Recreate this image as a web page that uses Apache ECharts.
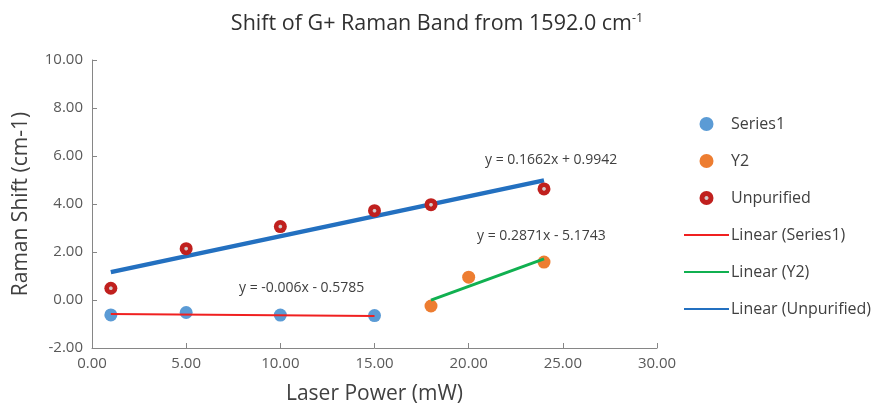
<!DOCTYPE html>
<html><head><meta charset="utf-8">
<script src="https://cdn.jsdelivr.net/npm/echarts@6/dist/echarts.min.js"></script>
<style>html,body{margin:0;padding:0;background:#fff}#c{width:882px;height:408px}</style>
</head><body><div id="c"></div>
<script>
const series1X = [1, 5, 10, 15];
const series1Y = [-0.62, -0.52, -0.63, -0.65];
const y2X = [18, 20, 24];
const y2Y = [-0.25, 0.95, 1.58];
const unpurX = [1, 5, 10, 15, 18, 24];
const unpurY = [0.49, 2.14, 3.06, 3.72, 3.97, 4.63];
// trend line coefficients [slope, intercept] as shown in the chart
const trendSeries1 = [-0.006, -0.5785];
const trendY2 = [0.2871, -5.1743];
const trendUnpur = [0.1662, 0.9942];
const eqLabels = ['y = -0.006x - 0.5785', 'y = 0.2871x - 5.1743', 'y = 0.1662x + 0.9942'];
const xTicks = [0, 5, 10, 15, 20, 25, 30];
const yTicks = [-2, 0, 2, 4, 6, 8, 10];

const pts = (xs, ys) => xs.map((x, i) => [x, ys[i]]);
const trend = (c, xs) => [Math.min(...xs), Math.max(...xs)].map(x => [x, c[0] * x + c[1]]);

const FONT = '"Open Sans", "Noto Sans", sans-serif';
const chart = echarts.init(document.getElementById('c'), null, {renderer: 'canvas'});
const axisCol = '#868686';
const txtCol = '#595959';
const hideSym = {opacity: 0};
chart.setOption({
  animation: false,
  backgroundColor: '#fff',
  textStyle: {fontFamily: FONT},
  title: {
    text: 'Shift of G+ Raman Band from 1592.0 cm{sup|-1}',
    left: 432, top: 7, textAlign: 'center',
    textStyle: {fontFamily: FONT, fontSize: 21.5, fontWeight: 'normal', color: '#303030',
      rich: {sup: {fontSize: 12.5, verticalAlign: 'top', padding: [0,0,10,0], color: '#303030', fontFamily: FONT}}}
  },
  grid: {left: 92, right: 225, top: 60, bottom: 60, outerBoundsMode: 'none', containLabel: false},
  xAxis: {
    type: 'value', min: xTicks[0], max: xTicks[xTicks.length - 1], interval: 5,
    name: 'Laser Power (mW)', nameLocation: 'middle', nameGap: 36,
    nameTextStyle: {fontSize: 21, color: '#404040', fontFamily: FONT},
    axisLine: {show: true, onZero: false, lineStyle: {color: axisCol, width: 1}},
    axisTick: {show: true, inside: true, length: 5, lineStyle: {color: axisCol}},
    axisLabel: {fontSize: 15, color: txtCol, formatter: v => v.toFixed(2), margin: 8, fontFamily: FONT},
    splitLine: {show: false}
  },
  yAxis: {
    type: 'value', min: yTicks[0], max: yTicks[yTicks.length - 1], interval: 2,
    name: 'Raman Shift (cm-1)', nameLocation: 'middle', nameGap: 60,
    nameTextStyle: {fontSize: 21, color: '#404040', fontFamily: FONT},
    axisLine: {show: true, onZero: false, lineStyle: {color: axisCol, width: 1}},
    axisTick: {show: true, inside: true, length: 5, lineStyle: {color: axisCol}},
    axisLabel: {fontSize: 15, color: txtCol, formatter: v => v.toFixed(2), margin: 9, fontFamily: FONT},
    splitLine: {show: false}
  },
  legend: {
    orient: 'vertical', left: 683, top: 116, padding: 0, itemWidth: 45, itemHeight: 14, itemGap: 21,
    textStyle: {fontSize: 16, color: '#404040', fontFamily: FONT, padding: [0,0,0,-3]},
    data: ['Series1', 'Y2', 'Unpurified',
      {name: 'Linear (Series1)', itemStyle: hideSym},
      {name: 'Linear (Y2)', itemStyle: hideSym},
      {name: 'Linear (Unpurified)', itemStyle: hideSym}]
  },
  series: [
    {name: 'Linear (Unpurified)', type: 'line', symbol: 'none', data: trend(trendUnpur, unpurX),
      lineStyle: {color: '#2370c0', width: 4.5}, itemStyle: {color: '#2370c0'}, z: 1},
    {name: 'Linear (Series1)', type: 'line', symbol: 'none', data: trend(trendSeries1, series1X),
      lineStyle: {color: '#f02020', width: 2}, itemStyle: {color: '#f02020'}, z: 3},
    {name: 'Linear (Y2)', type: 'line', symbol: 'none', data: trend(trendY2, y2X),
      lineStyle: {color: '#10b050', width: 3}, itemStyle: {color: '#10b050'}, z: 3},
    {name: 'Series1', type: 'scatter', symbol: 'circle', symbolSize: 13, data: pts(series1X, series1Y),
      itemStyle: {color: '#5b9bd5', opacity: 1}, z: 2},
    {name: 'Y2', type: 'scatter', symbol: 'circle', symbolSize: 13, data: pts(y2X, y2Y),
      itemStyle: {color: '#ed7d31', opacity: 1}, z: 2},
    {name: 'Unpurified', type: 'scatter', symbol: 'circle', symbolSize: 13, data: pts(unpurX, unpurY),
      itemStyle: {opacity: 1, color: {type: 'radial', x: 0.5, y: 0.5, r: 0.5, colorStops: [
        {offset: 0, color: '#d8d8d8'}, {offset: 0.22, color: '#d0c0c0'}, {offset: 0.35, color: '#c0201e'}, {offset: 1, color: '#c0201e'}]}}, z: 2}
  ],
  graphic: [
    {type: 'text', left: 239, top: 281, style: {text: eqLabels[0], fontSize: 14, fill: '#404040', fontFamily: FONT}},
    {type: 'text', left: 477, top: 229, style: {text: eqLabels[1], fontSize: 14, fill: '#404040', fontFamily: FONT}},
    {type: 'text', left: 485, top: 153, style: {text: eqLabels[2], fontSize: 14, fill: '#404040', fontFamily: FONT}}
  ]
});
</script></body></html>
